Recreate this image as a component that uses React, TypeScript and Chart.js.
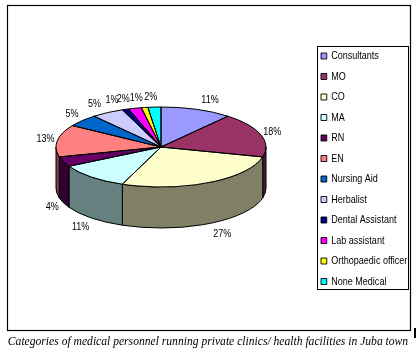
import React, { useEffect, useRef } from "react";
import { Chart, registerables } from "chart.js";

Chart.register(...registerables);

// ---- data ----
const categories = [
  "Consultants",
  "MO",
  "CO",
  "MA",
  "RN",
  "EN",
  "Nursing Aid",
  "Herbalist",
  "Dental Assistant",
  "Lab assistant",
  "Orthopaedic officer",
  "None Medical",
];
const shares = [11, 18, 27, 11, 4, 13, 5, 5, 1, 2, 1, 2];
const topColors = [
  "#9999FF",
  "#993366",
  "#FFFFCC",
  "#CCFFFF",
  "#660066",
  "#FF8080",
  "#0066CC",
  "#CCCCFF",
  "#000080",
  "#FF00FF",
  "#FFFF00",
  "#00FFFF",
];
const captionText =
  "Categories of medical personnel running private clinics/ health facilities in Juba town";

// ---- layout / style ----
const PIE = { cx: 161, cy: 147, rx: 105, ry: 40, depth: 41 };
const SANS = "'Liberation Sans', Arial, sans-serif";
const SQUEEZE = 0.82; // emulate a narrow (Arial Narrow-like) face

function shade(hex: string, f = 0.5) {
  const n = parseInt(hex.slice(1), 16);
  const r = Math.round(((n >> 16) & 255) * f);
  const g = Math.round(((n >> 8) & 255) * f);
  const b = Math.round((n & 255) * f);
  return `rgb(${r},${g},${b})`;
}

const framePlugin = {
  id: "frame",
  beforeDraw(chart: any) {
    const ctx = chart.ctx;
    ctx.save();
    ctx.fillStyle = "#fff";
    ctx.fillRect(0, 0, chart.width, chart.height);
    ctx.strokeStyle = "#000";
    ctx.lineWidth = 1.2;
    ctx.strokeRect(7.5, 5.5, 403, 325);
    ctx.fillStyle = "#000";
    ctx.fillRect(414, 328, 2, 10);
    ctx.restore();
  },
  afterDraw(chart: any) {
    const L = chart.legend;
    if (!L) return;
    const ctx = chart.ctx;
    ctx.save();
    ctx.strokeStyle = "#000";
    ctx.lineWidth = 1;
    const x0 = Math.round(L.left + 5.5) + 0.5;
    const y0 = Math.round(L.top + 5) + 0.5;
    const x1 = Math.round(L.right - 8) + 0.5;
    const y1 = Math.round(L.top + 248) + 0.5;
    ctx.strokeRect(x0, y0, x1 - x0, y1 - y0);
    ctx.restore();
  },
};

const legendSqueezePlugin = {
  id: "legendSqueeze",
  afterInit(chart: any) {
    const L = chart.legend;
    if (!L || L._squeezed) return;
    const orig = L.draw;
    L.draw = function (...args: any[]) {
      const ctx = this.ctx;
      const x0 = this.left + this.options.labels.padding;
      const savedRight = this.right;
      const savedWidth = this.width;
      // widen the box so the squeezed drawing is not clipped
      this.right = x0 + (savedRight - x0) / SQUEEZE;
      this.width = this.right - this.left;
      ctx.save();
      ctx.translate(x0, 0);
      ctx.scale(SQUEEZE, 1);
      ctx.translate(-x0, 0);
      orig.apply(this, args);
      ctx.restore();
      this.right = savedRight;
      this.width = savedWidth;
    };
    L._squeezed = true;
  },
};

let pieTransformed = false;

const pie3dPlugin = {
  id: "pie3d",
  beforeDatasetsDraw(chart: any) {
    const arcs = chart.getDatasetMeta(0).data as any[];
    pieTransformed = false;
    if (!arcs.length) return;
    const ctx = chart.ctx;
    const { cx, cy, rx, ry, depth } = PIE;
    ctx.save();
    ctx.lineWidth = 1;
    ctx.strokeStyle = "#000";
    arcs.forEach((arc, i) => {
      const a = Math.max(arc.startAngle, 0);
      const b = Math.min(arc.endAngle, Math.PI);
      if (b <= a) return;
      ctx.beginPath();
      ctx.ellipse(cx, cy, rx, ry, 0, a, b, false);
      ctx.ellipse(cx, cy + depth, rx, ry, 0, b, a, true);
      ctx.closePath();
      ctx.fillStyle = shade(topColors[i % topColors.length]);
      ctx.fill();
      ctx.stroke();
    });
    ctx.restore();
    const first = arcs[0];
    const R = first.outerRadius || 1;
    ctx.save();
    ctx.translate(cx, cy);
    ctx.scale(rx / R, ry / R);
    ctx.translate(-first.x, -first.y);
    pieTransformed = true;
  },
  afterDatasetsDraw(chart: any) {
    if (!pieTransformed) return;
    const ctx = chart.ctx;
    ctx.restore();
    pieTransformed = false;
    const arcs = chart.getDatasetMeta(0).data as any[];
    const { cx, cy, rx, ry, depth } = PIE;
    ctx.save();
    ctx.lineWidth = 1;
    ctx.strokeStyle = "#000";
    arcs.forEach((arc) => {
      ctx.beginPath();
      ctx.moveTo(cx, cy);
      ctx.ellipse(cx, cy, rx, ry, 0, arc.startAngle, arc.endAngle, false);
      ctx.closePath();
      ctx.stroke();
    });
    // percentage labels
    const total = shares.reduce((s, v) => s + v, 0);
    ctx.fillStyle = "#000";
    ctx.font = `11px ${SANS}`;
    ctx.textAlign = "center";
    ctx.textBaseline = "middle";
    arcs.forEach((arc, i) => {
      const t = (arc.startAngle + arc.endAngle) / 2;
      const c = Math.cos(t);
      const s = Math.sin(t);
      const lx = 117 + 45 * Math.pow(Math.abs(s), 8);
      const ly = s > 0 ? 52 : 50;
      const x = cx + lx * c;
      const y = cy + ly * s + (s > 0 ? depth : 0);
      ctx.save();
      ctx.translate(x, y);
      ctx.scale(SQUEEZE, 1);
      ctx.fillText(Math.round((shares[i] / total) * 100) + "%", 0, 0);
      ctx.restore();
    });
    ctx.restore();
  },
};

export default function App() {
  const ref = useRef<HTMLCanvasElement | null>(null);

  useEffect(() => {
    document.body.style.margin = "0";
    const canvas = ref.current;
    if (!canvas) return;
    const chart = new Chart(canvas, {
      type: "pie",
      data: {
        labels: categories,
        datasets: [
          {
            data: shares,
            backgroundColor: topColors,
            borderWidth: 0,
          },
        ],
      },
      options: {
        responsive: false,
        animation: false,
        events: [],
        layout: { padding: { top: 41, right: 0, bottom: 0, left: 0 } },
        plugins: {
          legend: {
            position: "right",
            align: "start",
            maxWidth: 104.5,
            labels: {
              boxWidth: 7,
              boxHeight: 6,
              padding: 9.5,
              color: "#000",
              font: { family: SANS, size: 11 },
              generateLabels: () =>
                categories.map((text, i) => ({
                  text,
                  fillStyle: topColors[i],
                  strokeStyle: "#000",
                  lineWidth: 1,
                  hidden: false,
                  index: i,
                  fontColor: "#000",
                })),
            },
          },
          title: {
            display: true,
            position: "bottom",
            text: captionText,
            color: "#000",
            font: { family: "'Liberation Serif', serif", style: "italic", size: 11.6, weight: "normal" },
            padding: { top: 4, bottom: 11 },
          },
          tooltip: { enabled: false },
        },
      } as any,
      plugins: [framePlugin, legendSqueezePlugin, pie3dPlugin],
    });
    return () => chart.destroy();
  }, []);

  return (
    <div style={{ width: 416, height: 360, position: "relative", background: "#fff" }}>
      <canvas ref={ref} width={416} height={360} style={{ display: "block" }} />
    </div>
  );
}
